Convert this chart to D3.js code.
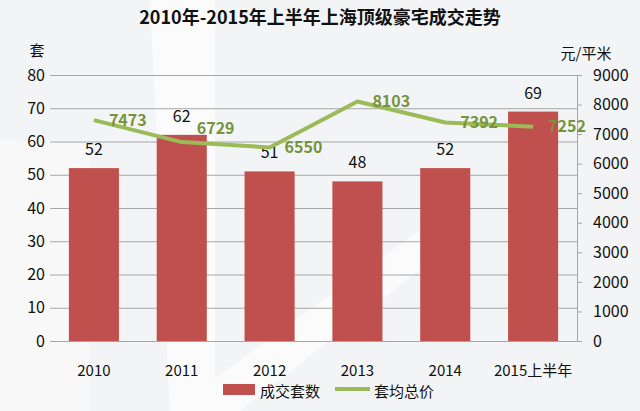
<!DOCTYPE html>
<html>
<head>
<meta charset="utf-8">
<script src="https://cdn.jsdelivr.net/npm/d3@7"></script>
<style>
  body { margin: 0; background: #fff; }
  svg text { font-family: "Noto Sans CJK SC", "Open Sans", sans-serif; }
</style>
</head>
<body>
<div id="chart"></div>
<script>
const years = ["2010", "2011", "2012", "2013", "2014", "2015上半年"];
const units = [52, 62, 51, 48, 52, 69];          // 成交套数
const avgPrice = [7473, 6729, 6550, 8103, 7392, 7252]; // 套均总价
const leftTicks = [0, 10, 20, 30, 40, 50, 60, 70, 80];
const rightTicks = [0, 1000, 2000, 3000, 4000, 5000, 6000, 7000, 8000, 9000];

const W = 640, H = 411;
const margin = {top: 75, right: 63, bottom: 70, left: 50},
      width = W - margin.left - margin.right,
      height = H - margin.top - margin.bottom;

const root = d3.select("#chart").append("svg")
  .attr("width", W)
  .attr("height", H);

// background with faint watermark shapes
root.append("rect").attr("width", W).attr("height", H).attr("fill", "#f3f4f6");
root.append("path")
  .attr("d", "M150,0 L215,0 L215,411 L170,411 Z")
  .attr("fill", "#fbfbfc");
root.append("path")
  .attr("d", "M0,140 L90,140 L90,411 L0,411 Z")
  .attr("fill", "#f8f8f9");
root.append("path")
  .attr("d", "M170,411 L420,230 L470,230 L240,411 Z")
  .attr("fill", "#fbfbfc");

root.append("text")
  .attr("x", W / 2)
  .attr("y", 24)
  .attr("text-anchor", "middle")
  .style("font-size", "18px")
  .style("font-weight", "bold")
  .attr("fill", "#111")
  .text("2010年-2015年上半年上海顶级豪宅成交走势");

const svg = root.append("g")
  .attr("transform", `translate(${margin.left},${margin.top})`);

const x = d3.scaleBand().domain(years).range([0, width]).paddingInner(0.43).paddingOuter(0.215);
const yL = d3.scaleLinear().domain([0, 80]).range([height, 0]);
const yR = d3.scaleLinear().domain([0, 9000]).range([height, 0]);
const cx = d => x(d) + x.bandwidth() / 2;

// gridlines + left labels
const leftAxis = svg.append("g")
  .call(d3.axisLeft(yL).tickValues(leftTicks).tickSize(-width).tickPadding(6));
leftAxis.select(".domain").remove();
leftAxis.selectAll(".tick line").attr("stroke", "#a6a6a6");
leftAxis.selectAll(".tick text")
  .attr("x", -5)
  .style("font-size", "16px")
  .attr("fill", "#111");

// right axis
const rightAxis = svg.append("g")
  .attr("transform", `translate(${width},0)`)
  .call(d3.axisRight(yR).tickValues(rightTicks).tickFormat(d3.format("d")).tickSize(5).tickPadding(11));
rightAxis.select(".domain").attr("stroke", "#a6a6a6");
rightAxis.selectAll(".tick line").attr("stroke", "#a6a6a6");
rightAxis.selectAll(".tick text").style("font-size", "16px").attr("fill", "#111");

// bars
svg.selectAll("rect.bar")
  .data(units)
  .enter()
  .append("rect")
  .attr("class", "bar")
  .attr("x", (d, i) => x(years[i]))
  .attr("y", d => yL(d))
  .attr("width", x.bandwidth())
  .attr("height", d => height - yL(d))
  .attr("fill", "#c0504d");

svg.selectAll("text.bar-label")
  .data(units)
  .enter()
  .append("text")
  .attr("class", "bar-label")
  .attr("x", (d, i) => cx(years[i]))
  .attr("y", d => yL(d) - 13)
  .attr("text-anchor", "middle")
  .style("font-size", "16px")
  .attr("fill", "#111")
  .text(d => d);

// line
const line = d3.line()
  .x((d, i) => cx(years[i]))
  .y(d => yR(d));

svg.append("path")
  .datum(avgPrice)
  .attr("d", line)
  .attr("fill", "none")
  .attr("stroke", "#9bbb59")
  .attr("stroke-width", 4)
  .attr("stroke-linejoin", "round");

svg.selectAll("text.line-label")
  .data(avgPrice)
  .enter()
  .append("text")
  .attr("class", "line-label")
  .attr("x", (d, i) => cx(years[i]) + 15)
  .attr("y", (d, i) => yR(d) + (i === 1 ? -14 : 0))
  .attr("dy", "0.35em")
  .style("font-size", "16px")
  .style("font-weight", "bold")
  .attr("fill", "#77933c")
  .text(d => d);

// x labels
svg.selectAll("text.x-label")
  .data(years)
  .enter()
  .append("text")
  .attr("class", "x-label")
  .attr("x", d => cx(d))
  .attr("y", height + 30)
  .attr("dy", "0.35em")
  .attr("text-anchor", "middle")
  .style("font-size", "15px")
  .attr("fill", "#111")
  .text(d => d);

// axis titles
root.append("text")
  .attr("x", 37).attr("y", 51).attr("dy", "0.35em")
  .attr("text-anchor", "middle")
  .style("font-size", "15px").attr("fill", "#111")
  .text("套");
root.append("text")
  .attr("x", 586).attr("y", 54).attr("dy", "0.35em")
  .attr("text-anchor", "middle")
  .style("font-size", "15px").attr("fill", "#111")
  .text("元/平米");

// legend
const legend = root.append("g").attr("transform", "translate(223,384)");
legend.append("rect").attr("width", 32).attr("height", 11).attr("fill", "#c0504d");
legend.append("text").attr("x", 37).attr("y", 8).attr("dy", "0.35em")
  .style("font-size", "15px").attr("fill", "#111").text("成交套数");
legend.append("line").attr("x1", 112).attr("x2", 147).attr("y1", 5).attr("y2", 5)
  .attr("stroke", "#9bbb59").attr("stroke-width", 4);
legend.append("text").attr("x", 151).attr("y", 8).attr("dy", "0.35em")
  .style("font-size", "15px").attr("fill", "#111").text("套均总价");
</script>
</body>
</html>
